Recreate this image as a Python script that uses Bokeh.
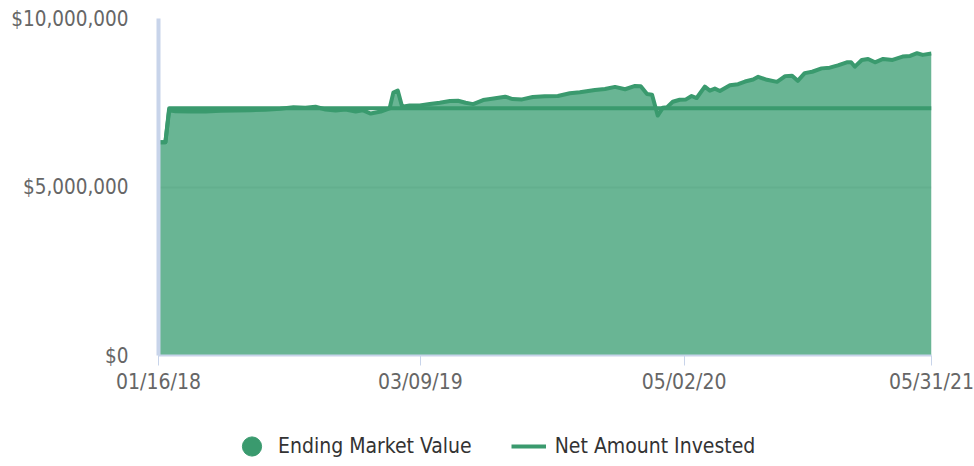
import math
import pandas as pd
from bokeh.plotting import figure
from bokeh.layouts import column
from bokeh.models import (ColumnDataSource, FixedTicker, NumeralTickFormatter,
                          DatetimeTickFormatter, Legend, LegendItem, Range1d)
from bokeh.embed import file_html
from bokeh.resources import INLINE

# ---------------- data ----------------
mv_dates = [
    "2018-01-16", "2018-01-27", "2018-02-02", "2018-02-12", "2018-03-08", "2018-04-01",
    "2018-04-25", "2018-05-19", "2018-06-12", "2018-07-05", "2018-07-29", "2018-08-19",
    "2018-09-07", "2018-09-23", "2018-10-09", "2018-10-25", "2018-11-10", "2018-11-26",
    "2018-12-07", "2018-12-20", "2019-01-05", "2019-01-19", "2019-01-25", "2019-02-01",
    "2019-02-08", "2019-02-20", "2019-03-08", "2019-03-24", "2019-04-09", "2019-04-25",
    "2019-05-08", "2019-05-20", "2019-06-01", "2019-06-17", "2019-07-01", "2019-07-22",
    "2019-08-03", "2019-08-18", "2019-09-04", "2019-09-23", "2019-10-14", "2019-11-02",
    "2019-11-18", "2019-12-12", "2019-12-28", "2020-01-13", "2020-01-29", "2020-02-14",
    "2020-02-23", "2020-03-04", "2020-03-12", "2020-03-21", "2020-03-29", "2020-04-05",
    "2020-04-14", "2020-04-25", "2020-05-05", "2020-05-14", "2020-05-22", "2020-06-04",
    "2020-06-12", "2020-06-20", "2020-06-28", "2020-07-14", "2020-07-27", "2020-08-07",
    "2020-08-20", "2020-08-28", "2020-09-11", "2020-09-27", "2020-10-10", "2020-10-21",
    "2020-10-30", "2020-11-10", "2020-11-22", "2020-12-07", "2020-12-20", "2021-01-02",
    "2021-01-16", "2021-01-23", "2021-01-29", "2021-02-09", "2021-02-19", "2021-03-02",
    "2021-03-15", "2021-03-30", "2021-04-15", "2021-04-27", "2021-05-08", "2021-05-17",
    "2021-05-31",
]
mv_values = [
    6330000, 6330000, 7280000, 7250000, 7240000, 7240000,
    7260000, 7270000, 7280000, 7290000, 7320000, 7370000,
    7350000, 7380000, 7300000, 7270000, 7300000, 7240000,
    7280000, 7180000, 7240000, 7330000, 7800000, 7860000,
    7380000, 7420000, 7420000, 7460000, 7500000, 7550000,
    7560000, 7500000, 7460000, 7580000, 7620000, 7680000,
    7610000, 7600000, 7670000, 7690000, 7700000, 7780000,
    7810000, 7880000, 7910000, 7970000, 7900000, 8000000,
    7990000, 7760000, 7740000, 7120000, 7350000, 7370000,
    7530000, 7590000, 7600000, 7700000, 7640000, 7980000,
    7860000, 7920000, 7850000, 8020000, 8050000, 8130000,
    8190000, 8270000, 8180000, 8120000, 8290000, 8300000,
    8150000, 8380000, 8420000, 8520000, 8540000, 8610000,
    8700000, 8700000, 8570000, 8770000, 8800000, 8700000,
    8800000, 8770000, 8870000, 8890000, 8970000, 8920000,
    8960000,
]
net_dates = ["2018-01-16", "2018-01-27", "2018-02-02", "2021-05-31"]
net_values = [6330000, 6330000, 7340000, 7340000]

x_tick_dates = ["2018-01-16", "2019-03-09", "2020-05-02", "2021-05-31"]
y_ticks = [0, 5000000, 10000000]
series_names = ["Ending Market Value", "Net Amount Invested"]

# ---------------- styling ----------------
GREEN = "#3a9a6e"
FILL = "#379c70"
AXIS = "#c8d4ea"
FONT = "DejaVu Sans Condensed, DejaVu Sans"

mv_src = ColumnDataSource(dict(date=pd.to_datetime(mv_dates), value=mv_values))
net_src = ColumnDataSource(dict(date=pd.to_datetime(net_dates), value=net_values))

x_start = pd.Timestamp(x_tick_dates[0])
x_end = pd.Timestamp(x_tick_dates[-1])

p = figure(width=974, height=400, x_axis_type="datetime",
           output_backend="svg", toolbar_location=None,
           x_range=Range1d(x_start, x_end), y_range=Range1d(0, y_ticks[-1]),
           min_border_left=158, min_border_right=43,
           min_border_top=18, min_border_bottom=45)
p.outline_line_color = None

p.varea(x="date", y1=0, y2="value", source=mv_src, fill_color=FILL, fill_alpha=0.75)
p.line(x="date", y="value", source=mv_src, line_color=GREEN, line_width=4,
       line_join="round")
p.line(x="date", y="value", source=net_src, line_color=GREEN, line_width=4,
       line_join="round")

# axes
tick_ms = [pd.Timestamp(d).value / 1e6 for d in x_tick_dates]
p.xaxis.ticker = FixedTicker(ticks=tick_ms)
fmt = "%m/%d/%y"
p.xaxis.formatter = DatetimeTickFormatter(
    milliseconds=fmt, seconds=fmt, minsec=fmt, minutes=fmt, hourmin=fmt,
    hours=fmt, days=fmt, months=fmt, years=fmt)
p.xaxis.axis_line_color = AXIS
p.xaxis.axis_line_width = 2
p.xaxis.major_tick_line_color = AXIS
p.xaxis.major_tick_line_width = 1
p.xaxis.major_tick_in = 0
p.xaxis.major_tick_out = 10
p.xaxis.minor_tick_out = 0
p.xaxis.minor_tick_in = 0
p.xaxis.major_label_standoff = 4
p.xaxis.major_label_text_color = "#666666"
p.xaxis.major_label_text_font = FONT
p.xaxis.major_label_text_font_size = "21px"

p.yaxis.ticker = FixedTicker(ticks=y_ticks)
p.yaxis.formatter = NumeralTickFormatter(format="$0,0")
p.yaxis.axis_line_color = AXIS
p.yaxis.axis_line_width = 4
p.yaxis.major_tick_in = 0
p.yaxis.major_tick_out = 0
p.yaxis.minor_tick_in = 0
p.yaxis.minor_tick_out = 0
p.yaxis.major_label_standoff = 30
p.yaxis.major_label_text_color = "#666666"
p.yaxis.major_label_text_font = FONT
p.yaxis.major_label_text_font_size = "20.5px"

p.xgrid.grid_line_color = None
p.ygrid.grid_line_color = "#e6e6e6"
p.ygrid.grid_line_width = 2

# ---------------- legend strip ----------------
p2 = figure(width=974, height=66, output_backend="svg", toolbar_location=None,
            x_range=Range1d(0, 1), y_range=Range1d(0, 1),
            min_border_left=0, min_border_right=0, min_border_top=0,
            min_border_bottom=0, x_axis_location=None, y_axis_location=None)
p2.outline_line_color = None
p2.xgrid.visible = False
p2.ygrid.visible = False

nan = float("nan")
mv_proxy = p2.ellipse(x=[nan], y=[nan], width=19, height=19,
                      width_units="screen", height_units="screen",
                      fill_color=GREEN, line_color=GREEN)
net_proxy = p2.line(x=[nan, nan], y=[nan, nan], line_color=GREEN, line_width=4)

legend = Legend(
    items=[LegendItem(label=series_names[0], renderers=[mv_proxy]),
           LegendItem(label=series_names[1], renderers=[net_proxy])],
    orientation="horizontal", location=(76, 8), padding=0, margin=0,
    glyph_width=35, glyph_height=24, label_standoff=9, spacing=39,
    border_line_alpha=0, background_fill_alpha=0,
    label_text_font=FONT, label_text_font_size="21px",
    label_text_color="#333333")
p2.add_layout(legend)

layout = column(p, p2, spacing=0)
open("out.html", "w").write(file_html(layout, INLINE))
